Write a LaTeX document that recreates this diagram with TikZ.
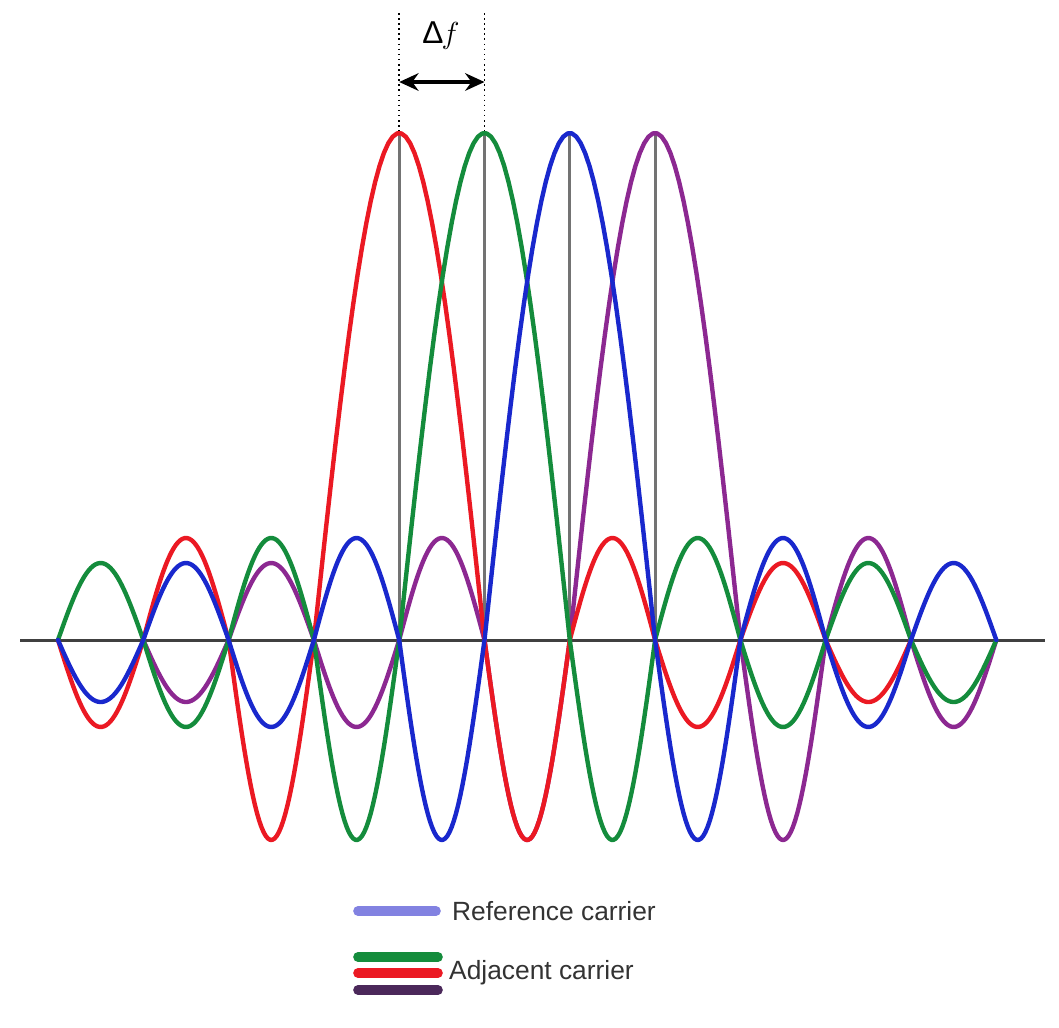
\documentclass[tikz,border=0pt]{standalone}
\usepackage{fontspec}
\setmainfont{Liberation Sans}
\usetikzlibrary{arrows.meta}

\definecolor{cred}{RGB}{235,25,35}
\definecolor{cgreen}{RGB}{20,140,60}
\definecolor{cblue}{RGB}{25,40,205}
\definecolor{cpurple}{RGB}{140,40,145}
\definecolor{cref}{RGB}{130,130,225}
\definecolor{cdark}{RGB}{75,40,90}

\begin{document}
\begin{tikzpicture}[x=0.02cm,y=-0.02cm,>={Stealth[length=11pt,width=10pt]},
  carrier/.style={line width=2.5pt,line join=round,line cap=round},
  legbar/.style={line width=5.5pt,line cap=round},
  legtext/.style={anchor=west,text=black!80,font=\fontsize{15}{18}\selectfont}]
  \useasboundingbox (0,0) rectangle (1059,1028);
  \foreach \c in {4,...,7}{
    \coordinate (top\c) at ({58+85.3*\c},133);
    \coordinate (bot\c) at ({58+85.3*\c},640);
  }
  \coordinate (axl) at (20,640);
  \coordinate (axr) at (1045,640);
  \coordinate (dot4) at ({58+85.3*4},13);
  \coordinate (dot5) at ({58+85.3*5},13);
  \coordinate (dfl) at ({58+85.3*4},82);
  \coordinate (dfr) at ({58+85.3*5},82);
  \draw[black!75,line width=1.7pt] (axl) -- (axr);
  \foreach \c in {4,...,7}
    \draw[black!55,line width=1.6pt] (bot\c) -- (top\c);
  \draw[dotted,line width=0.9pt] (dot4) -- (top4);
  \draw[dotted,line width=0.9pt] (dot5) -- (top5);
  \draw[<->,line width=2pt] (dfl) -- (dfr);
  \node[font=\fontsize{18}{20}\selectfont] (df) at (441,36) {Δ\kern-1pt$f$};
  \draw[carrier,cpurple] (143.3,640) \foreach \s/\w/\a in {1/1/-62,2/1/77,3/1/-87,4/1/102,5/1/-200,6/2/507,8/1/-200,9/1/102,10/1/-87}
    { -- plot[domain=0:\w,samples=40] ({58+85.3*(\s+\x)},{640-\a*sin(180*\x/\w)}) };
  \draw[carrier,cred] (58,640) \foreach \s/\w/\a in {0/1/-87,1/1/102,2/1/-200,3/2/507,5/1/-200,6/1/102,7/1/-87,8/1/77,9/1/-62}
    { -- plot[domain=0:\w,samples=40] ({58+85.3*(\s+\x)},{640-\a*sin(180*\x/\w)}) };
  \draw[carrier,cgreen] (58,640) \foreach \s/\w/\a in {0/1/77,1/1/-87,2/1/102,3/1/-200,4/2/507,6/1/-200,7/1/102,8/1/-87,9/1/77,10/1/-62}
    { -- plot[domain=0:\w,samples=40] ({58+85.3*(\s+\x)},{640-\a*sin(180*\x/\w)}) };
  \draw[carrier,cblue] (58,640) \foreach \s/\w/\a in {0/1/-62,1/1/77,2/1/-87,3/1/102,4/1/-200,5/2/507,7/1/-200,8/1/102,9/1/-87,10/1/77}
    { -- plot[domain=0:\w,samples=40] ({58+85.3*(\s+\x)},{640-\a*sin(180*\x/\w)}) };
  \draw[legbar,cref] (358,911) -- (436,911);
  \draw[legbar,cgreen] (358,957) -- (438,957);
  \draw[legbar,cred] (358,973) -- (438,973);
  \draw[legbar,cdark] (358,990) -- (438,990);
  \node[legtext] (reflabel) at (446,911) {Reference carrier};
  \node[legtext] (adjlabel) at (443,973) {Adjacent carrier};
\end{tikzpicture}
\end{document}
